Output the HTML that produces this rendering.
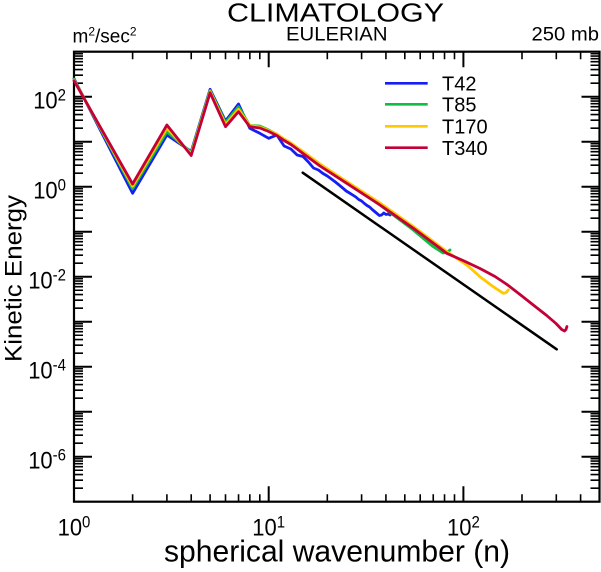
<!DOCTYPE html>
<html>
<head>
<meta charset="utf-8">
<style>
html,body{margin:0;padding:0;background:#fff;}
svg{display:block;}
text{font-family:"Liberation Sans",Arial,Helvetica,sans-serif;fill:#000;}
</style>
</head>
<body>
<svg width="601" height="572" viewBox="0 0 601 572" xmlns="http://www.w3.org/2000/svg">
<rect width="601" height="572" fill="#fff"/>
<defs>
  <path id="ym" d="M74 -13.55h9M74 -21.47h9M74 -27.09h9M74 -31.45h9M74 -35.02h9M74 -38.03h9M74 -40.64h9M74 -42.94h9M599.5 -13.55h-9M599.5 -21.47h-9M599.5 -27.09h-9M599.5 -31.45h-9M599.5 -35.02h-9M599.5 -38.03h-9M599.5 -40.64h-9M599.5 -42.94h-9" stroke="#000" stroke-width="1.6" fill="none"/>
  <path id="xm" d="M58.61 501.7v-7.5M92.90 501.7v-7.5M117.22 501.7v-7.5M136.09 501.7v-7.5M151.51 501.7v-7.5M164.54 501.7v-7.5M175.83 501.7v-7.5M185.79 501.7v-7.5M58.61 51.7v7.5M92.90 51.7v7.5M117.22 51.7v7.5M136.09 51.7v7.5M151.51 51.7v7.5M164.54 51.7v7.5M175.83 51.7v7.5M185.79 51.7v7.5" stroke="#000" stroke-width="1.6" fill="none"/>
</defs>

<use href="#ym" transform="translate(0,96.7)"/>
<use href="#ym" transform="translate(0,141.7)"/>
<use href="#ym" transform="translate(0,186.7)"/>
<use href="#ym" transform="translate(0,231.7)"/>
<use href="#ym" transform="translate(0,276.7)"/>
<use href="#ym" transform="translate(0,321.7)"/>
<use href="#ym" transform="translate(0,366.7)"/>
<use href="#ym" transform="translate(0,411.7)"/>
<use href="#ym" transform="translate(0,456.7)"/>
<use href="#ym" transform="translate(0,501.7)"/>
<path d="M74 96.7h18M74 141.7h18M74 186.7h18M74 231.7h18M74 276.7h18M74 321.7h18M74 366.7h18M74 411.7h18M74 456.7h18
M599.5 96.7h-18M599.5 141.7h-18M599.5 186.7h-18M599.5 231.7h-18M599.5 276.7h-18M599.5 321.7h-18M599.5 366.7h-18M599.5 411.7h-18M599.5 456.7h-18" stroke="#000" stroke-width="2" fill="none"/>

<use href="#xm" transform="translate(74,0)"/>
<use href="#xm" transform="translate(268.7,0)"/>
<path d="M522 501.7v-7.5M556.3 501.7v-7.5M580.6 501.7v-7.5M522 51.7v7.5M556.3 51.7v7.5M580.6 51.7v7.5" stroke="#000" stroke-width="1.6" fill="none"/>
<path d="M268.7 501.7v-15.5M463.4 501.7v-15.5M268.7 51.7v15.5M463.4 51.7v15.5" stroke="#000" stroke-width="2" fill="none"/>

<rect x="74" y="51.7" width="525.5" height="450" fill="none" stroke="#000" stroke-width="2.2"/>

<g fill="none" stroke-width="2.8" stroke-linejoin="round" stroke-linecap="round">
<polyline stroke="rgb(20,30,245)" points="74,78.5 132.6,193.3 166.9,135 191.2,151.5 210.1,89.3 225.5,121 238.5,104 249.8,128.3 259.8,133.3 268.7,138.3 276.8,135 284.1,146 290.9,149 297.1,155 303,156.5 308.4,162 313.5,168 318.4,170 323,173.5 327.3,176 331.4,179 335.4,182 339.1,185 342.7,188 346.2,191 349.5,193 352.7,195 355.8,197 358.7,199.5 361.6,201 364.4,203.5 367,205.5 369.6,207 372.2,209.5 374.6,211.5 377,213.5 379.3,215.5 381.6,215 383.8,213 386,214.5 388,214 390.1,215"/>
<polyline stroke="rgb(15,190,65)" points="74,79.3 132.6,188.8 166.9,131.7 191.2,152.5 210.1,90.5 225.5,122.5 238.5,106.7 249.8,125.5 259.8,126 268.7,130 276.8,134.5 284.1,139.5 290.9,143.5 297.1,148 303,152.5 320,165 346.7,182.5 380,205 413.3,230 433,246.5 443,253 447,252.5 450,250"/>
<polyline stroke="rgb(255,200,0)" points="74,80 132.6,186.3 166.9,128.3 191.2,154 210.1,91.5 225.5,124.5 238.5,109.3 249.8,125.5 259.8,127 268.7,130.5 276.8,134 284.1,139 290.9,143 297.1,147.5 303,151.5 320,164 346.7,181.5 380,203 413.3,226.5 446.7,251.5 455,257 468,266 480,276.7 493.3,286.7 503.3,293.3 506,292.7 508.3,290"/>
<polyline stroke="rgb(195,0,55)" points="74,80.7 132.6,184 166.9,125 191.2,155.5 210.1,92.7 225.5,126.7 238.5,111.7 249.8,126.7 259.8,128 268.7,131.5 276.8,135.5 284.1,140.5 290.9,144.5 297.1,149 303,153.5 320,166 346.7,183.3 380,205 413.3,228.3 446.7,253.3 463,260.5 480,268.5 495,276.5 507,284.5 520,294.5 532,304 546.7,315.5 556,323.5 561.7,329.5 564.5,331 566,329.5 566.9,326.5"/>
<line x1="302.7" y1="172.7" x2="556.7" y2="349.3" stroke="#000" stroke-width="2.5"/>
</g>

<g stroke-width="2.6">
<line x1="385" y1="83.3" x2="427.7" y2="83.3" stroke="rgb(20,30,245)"/>
<line x1="385" y1="104.3" x2="427.7" y2="104.3" stroke="rgb(15,190,65)"/>
<line x1="385" y1="126.3" x2="427.7" y2="126.3" stroke="rgb(255,200,0)"/>
<line x1="385" y1="147.7" x2="427.7" y2="147.7" stroke="rgb(195,0,55)"/>
</g>
<g font-size="20">
<text x="442" y="90.7">T42</text>
<text x="442" y="111.7">T85</text>
<text x="442" y="133.7">T170</text>
<text x="442" y="155.1">T340</text>
</g>

<text x="227" y="21.7" font-size="25.5" textLength="217" lengthAdjust="spacingAndGlyphs">CLIMATOLOGY</text>
<text x="286" y="40.7" font-size="19.5" textLength="101.5" lengthAdjust="spacingAndGlyphs">EULERIAN</text>
<text x="531.5" y="40.7" font-size="19.5" textLength="67.5" lengthAdjust="spacingAndGlyphs">250 mb</text>
<text x="72.5" y="42.3" font-size="19">m<tspan font-size="12" dy="-7">2</tspan><tspan dy="7">/sec</tspan><tspan font-size="12" dy="-7">2</tspan></text>

<g font-size="22" text-anchor="end">
<text transform="translate(66,108.5) scale(1,1.1)">10<tspan font-size="15" dy="-7.5">2</tspan></text>
<text transform="translate(66,198.5) scale(1,1.1)">10<tspan font-size="15" dy="-7.5">0</tspan></text>
<text transform="translate(66,288.5) scale(1,1.1)">10<tspan font-size="15" dy="-7.5">-2</tspan></text>
<text transform="translate(66,378.5) scale(1,1.1)">10<tspan font-size="15" dy="-7.5">-4</tspan></text>
<text transform="translate(66,468.5) scale(1,1.1)">10<tspan font-size="15" dy="-7.5">-6</tspan></text>
</g>

<g font-size="22" text-anchor="middle">
<text transform="translate(74,535.7) scale(1,1.1)">10<tspan font-size="15" dy="-7.5">0</tspan></text>
<text transform="translate(268.7,535.7) scale(1,1.1)">10<tspan font-size="15" dy="-7.5">1</tspan></text>
<text transform="translate(463.4,535.7) scale(1,1.1)">10<tspan font-size="15" dy="-7.5">2</tspan></text>
</g>

<text x="164" y="561.7" font-size="30.5" textLength="346" lengthAdjust="spacingAndGlyphs">spherical wavenumber (n)</text>
<text transform="translate(21.7,362) rotate(-90)" font-size="24" textLength="167" lengthAdjust="spacingAndGlyphs">Kinetic Energy</text>
</svg>
</body>
</html>
